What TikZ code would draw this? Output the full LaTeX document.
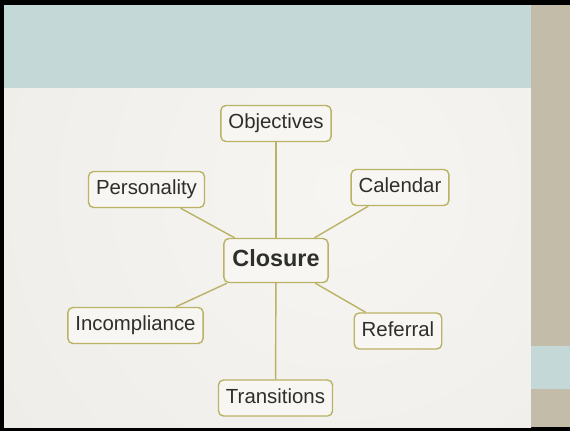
\documentclass[tikz,border=0pt]{standalone}
\usepackage{fontspec}
\setmainfont{Liberation Sans}
\usetikzlibrary{calc, positioning}

\definecolor{slideteal}{HTML}{C4D8D7}
\definecolor{slidetan}{HTML}{C3BCA9}
\definecolor{slidebg}{HTML}{F6F5F1}
\definecolor{slideshade}{HTML}{E6E5E1}
\definecolor{boxline}{HTML}{BAB264}
\definecolor{boxfill}{HTML}{F7F6F2}
\definecolor{boxtext}{HTML}{2E2E2A}

\tikzstyle{topic} = [draw=boxline, line width=1.4pt, fill=boxfill, rounded corners=5pt,
    text=boxtext, font=\fontsize{20.4}{24}\selectfont, inner xsep=7.5pt, inner ysep=8.5pt,
    text height=14.8pt, text depth=4.2pt]
\tikzstyle{hub} = [topic, font=\fontsize{23.4}{28}\selectfont\bfseries, inner xsep=8.5pt,
    inner ysep=11pt, text height=17pt, text depth=5pt]
\tikzstyle{link} = [draw=boxline, line width=1.4pt]

\begin{document}
\begin{tikzpicture}[x=1pt, y=-1pt]
\useasboundingbox (0,0) rectangle (570,431);

% Slide frame and background
\fill[black] (0,0) rectangle (570,431);
\begin{scope}
    \clip (4,88) rectangle (531,427);
    \shade[inner color=slidebg, outer color=slideshade] (340,190) circle (820);
\end{scope}
\fill[slideteal] (4,5) rectangle (531,88);
\fill[slidetan] (531,5) rectangle (570,427);
\fill[slideteal] (531,346) rectangle (570,389);

% Center topic
\node[hub] (clos) at (276,260.5) {Closure};

% Surrounding topics
\node[topic] (obj) at (276,123.5) {Objectives};
\node[topic] (pers) at (146.5,189.5) {Personality};
\node[topic] (cal) at (400,187.5) {Calendar};
\node[topic] (ref) at (398,331) {Referral};
\node[topic] (incomp) at (135.5,325.5) {Incompliance};
\node[topic] (trans) at (275.5,398) {Transitions};

% Connect topics to the center
\foreach \t in {obj,pers,cal,ref,incomp,trans}
    \path[link] (clos) -- (\t);

\end{tikzpicture}
\end{document}
